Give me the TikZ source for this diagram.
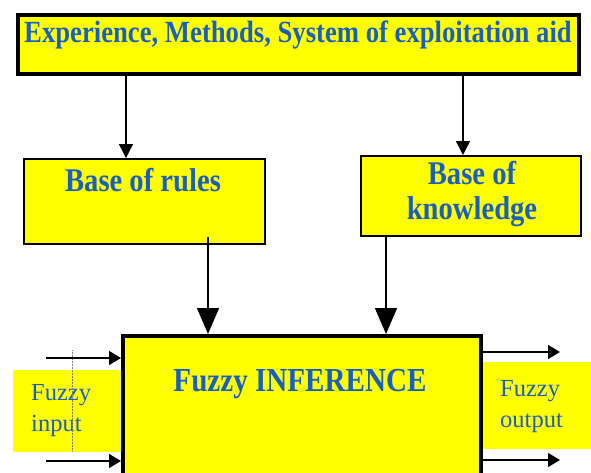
\documentclass[tikz,border=0pt]{standalone}
\usepackage{fontspec}
\setmainfont{Liberation Serif}
\usetikzlibrary{arrows.meta}
\definecolor{txtblue}{RGB}{25,95,190}
\definecolor{boxyellow}{RGB}{255,255,0}
\newcommand{\tallbf}[1]{\scalebox{0.97}[1.12]{#1}}
\tikzset{
  box/.style={draw=black, fill=boxyellow, inner sep=0pt, anchor=north west},
  heavybox/.style={box, line width=4pt},
  lightbox/.style={box, line width=1.8pt},
  padbox/.style={fill=boxyellow, inner sep=0pt, anchor=north west},
  boldlbl/.style={text=txtblue, font=\bfseries, inner sep=0pt, align=center},
  plainlbl/.style={text=txtblue, inner sep=0pt, align=left, font=\fontsize{24.5}{31}\selectfont},
  conn/.style={line width=1.4pt, -{Triangle[length=14pt,width=14pt]}},
  bigconn/.style={line width=1.4pt, -{Triangle[length=26pt,width=22pt]}},
  sideconn/.style={line width=1.4pt, -{Triangle[length=12pt,width=14pt]}},
}
\begin{document}
\begin{tikzpicture}[x=1pt,y=-1pt]
\useasboundingbox (0,0) rectangle (591,472);
\clip (0,0) rectangle (591,472);
% top box
\node[heavybox, minimum width=561pt, minimum height=59pt] (top) at (16,13) {};
\node[boldlbl, font=\bfseries\fontsize{27.5}{30}\selectfont] (toplbl) at (298,35) {\tallbf{Experience, Methods, System of exploitation aid}};
% base boxes
\node[lightbox, minimum width=241pt, minimum height=85pt] (rules) at (23,158) {};
\node[boldlbl, font=\bfseries\fontsize{29.5}{35}\selectfont] (ruleslbl) at (143,180) {\tallbf{Base of rules}};
\node[lightbox, minimum width=220pt, minimum height=80pt] (know) at (360,155) {};
\node[boldlbl, font=\bfseries\fontsize{29.5}{35}\selectfont] (knowlbl) at (472,194) {\tallbf{Base of}\\\tallbf{knowledge}};
% side pads
\node[padbox, minimum width=108pt, minimum height=82pt] (inpad) at (13,370) {};
\node[padbox, minimum width=108pt, minimum height=87pt] (outpad) at (483,362) {};
% inference box
\node[heavybox, minimum width=358pt, minimum height=150pt] (inf) at (121,334) {};
\node[boldlbl, font=\bfseries\fontsize{30}{32}\selectfont] (inflbl) at (300,384) {\tallbf{Fuzzy INFERENCE}};
% side labels
\node[plainlbl, anchor=west] (inlbl) at (31,411) {Fuzzy\\input};
\node[plainlbl, anchor=west] (outlbl) at (500,407) {Fuzzy\\output};
\draw[gray, densely dotted, line width=0.5pt] (72,350) -- (72,452);
% coordinates
\coordinate (t1) at (126,73);
\coordinate (t2) at (463,73);
\coordinate (r1) at (208,237);
\coordinate (k1) at (386,235);
\coordinate (i1s) at (46,358);
\coordinate (i2s) at (46,461);
\coordinate (o1e) at (560,352);
\coordinate (o2e) at (560,460);
% connectors
\draw[conn] (t1) -- (t1 |- rules.north);
\draw[conn] (t2) -- (t2 |- know.north);
\draw[bigconn] (r1) -- (r1 |- inf.north);
\draw[bigconn] (k1) -- (k1 |- inf.north);
\draw[sideconn] (i1s) -- (i1s -| inf.west);
\draw[sideconn] (i2s) -- (i2s -| inf.west);
\draw[sideconn] (o1e -| inf.east) -- (o1e);
\draw[sideconn] (o2e -| inf.east) -- (o2e);
\end{tikzpicture}
\end{document}
